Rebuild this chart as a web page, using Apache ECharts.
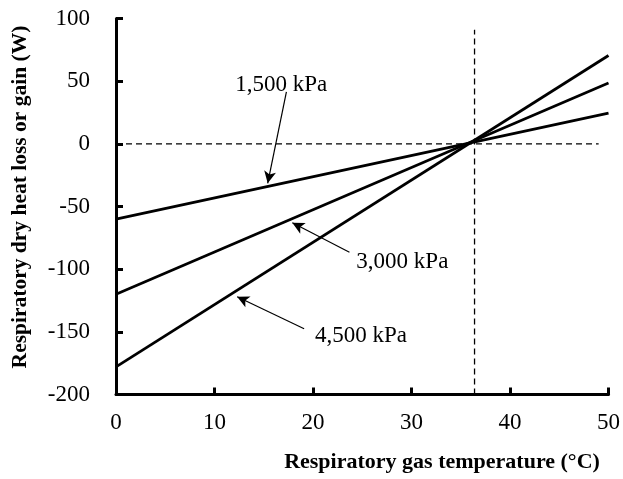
<!DOCTYPE html>
<html>
<head>
<meta charset="utf-8">
<script src="https://cdn.jsdelivr.net/npm/echarts@6/dist/echarts.min.js"></script>
<style>
  html, body { margin: 0; padding: 0; background: #fff; }
  #chart { width: 623px; height: 479px; }
</style>
</head>
<body>
<div id="chart"></div>
<script>
// gas temperature (°C) at the two ends of each line
const temps = [0, 50]
// heat loss or gain (W)
const kpa1500 = [-60, 24.5]
const kpa3000 = [-120, 48.5]
const kpa4500 = [-178, 70.5]

// reference lines
const zeroLine = [[0, 0], [49, 0]]
const bodyTemp = [[36.4, -200], [36.4, 91]]

// annotation labels: [x, y, text]
const labels = [
  [12.1, 47, '1,500 kPa'],
  [24.4, -94, '3,000 kPa'],
  [20.2, -153, '4,500 kPa']
]
// arrows: tail -> tip
const arrows = [
  [[17.3, 41.5], [15.4, -31.5]],
  [[23.7, -86.5], [17.9, -63]],
  [[19.1, -147.5], [12.3, -122]]
]

const font = '"Liberation Serif", "Times New Roman", serif'

function pairs(ys) {
  return temps.map((t, i) => [t, ys[i]])
}

const chart = echarts.init(document.getElementById('chart'))

const solid = { color: '#000', width: 2.75 }

chart.setOption({
  animation: false,
  grid: { left: 116, right: 13.5, top: 18.5, bottom: 84.5 },
  xAxis: {
    type: 'value', min: 0, max: 50, interval: 10,
    axisLine: { onZero: false, lineStyle: { color: '#000', width: 3 } },
    axisTick: { inside: true, length: 7, lineStyle: { color: '#000', width: 3 } },
    axisLabel: { color: '#000', fontFamily: font, fontSize: 23, margin: 17 },
    splitLine: { show: false }
  },
  yAxis: {
    type: 'value', min: -200, max: 100, interval: 50,
    axisLine: { show: true, onZero: false, lineStyle: { color: '#000', width: 3 } },
    axisTick: { show: true, inside: true, length: 7, lineStyle: { color: '#000', width: 3 } },
    axisLabel: { color: '#000', fontFamily: font, fontSize: 23, margin: 26 },
    splitLine: { show: false }
  },
  graphic: [
    {
      type: 'text', x: 442, y: 462,
      style: {
        text: 'Respiratory gas temperature (°C)', font: 'bold 22px ' + font,
        fill: '#000', align: 'center', verticalAlign: 'middle'
      }
    },
    {
      type: 'text', x: 20, y: 197, rotation: Math.PI / 2,
      style: {
        text: 'Respiratory dry heat loss or gain (W)', font: 'bold 21.5px ' + font,
        fill: '#000', align: 'center', verticalAlign: 'middle'
      }
    }
  ],
  series: [
    { name: '1,500 kPa', type: 'line', data: pairs(kpa1500), showSymbol: false, lineStyle: solid },
    { name: '3,000 kPa', type: 'line', data: pairs(kpa3000), showSymbol: false, lineStyle: solid },
    { name: '4,500 kPa', type: 'line', data: pairs(kpa4500), showSymbol: false, lineStyle: solid },
    {
      type: 'line', data: zeroLine, showSymbol: false,
      lineStyle: { color: '#000', width: 1.3, type: [6, 4] }
    },
    {
      type: 'line', data: bodyTemp, showSymbol: false,
      lineStyle: { color: '#000', width: 1.3, type: [6, 4] }
    },
    {
      type: 'scatter', symbolSize: 0,
      data: labels.map(l => ({ value: [l[0], l[1]], name: l[2] })),
      label: {
        show: true, position: 'right', distance: 0, formatter: '{b}',
        color: '#000', opacity: 1, fontFamily: font, fontSize: 23
      },
      markLine: {
        silent: true,
        symbol: ['none', 'arrow'], symbolSize: [9, 12],
        lineStyle: { color: '#000', width: 1.2, type: 'solid' },
        label: { show: false },
        data: arrows.map(a => [{ coord: a[0] }, { coord: a[1] }])
      }
    }
  ]
})
</script>
</body>
</html>
